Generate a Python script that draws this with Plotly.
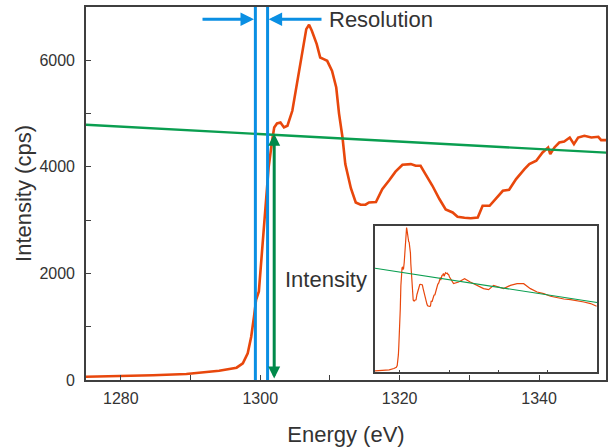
import plotly.graph_objects as go

# ---- data ----
energy = [1275.0, 1279.8, 1284.6, 1289.4, 1294.1, 1296.6, 1297.5, 1298.2, 1298.7, 1299.1,
          1299.4, 1299.8, 1300.2, 1300.6, 1301.2, 1301.7, 1302.0, 1302.4, 1302.9, 1303.4,
          1303.9, 1304.6, 1305.3, 1306.0, 1306.6, 1307.0, 1307.4, 1308.1, 1308.6, 1309.1,
          1309.6, 1310.3, 1310.9, 1311.3, 1311.8, 1312.2, 1313.0, 1313.7, 1314.4, 1315.1,
          1315.6, 1316.6, 1317.5, 1318.5, 1319.4, 1320.4, 1321.1, 1321.6, 1322.3, 1323.0,
          1323.7, 1324.7, 1325.7, 1326.6, 1327.6, 1328.3, 1329.3, 1330.2, 1331.2, 1331.9,
          1332.9, 1333.6, 1334.8, 1335.7, 1336.7, 1337.9, 1338.6, 1339.6, 1340.5, 1341.3,
          1341.6, 1342.2, 1342.9, 1343.6, 1344.4, 1345.0, 1345.6, 1346.5, 1347.5, 1348.5,
          1348.9, 1349.6]
intensity = [62, 69, 88, 113, 175, 231, 313, 500, 813, 1188,
             1502, 1662, 2289, 2912, 3989, 4490, 4739, 4814, 4833, 4740,
             4771, 5052, 5615, 6178, 6585, 6666, 6553, 6303, 6052, 6022,
             5990, 5802, 5489, 5000, 4551, 4052, 3600, 3332, 3290, 3290,
             3332, 3340, 3583, 3750, 3910, 4040, 4052, 4052, 4020, 4020,
             3865, 3645, 3396, 3200, 3144, 3064, 3045, 3035, 3050, 3270,
             3270, 3377, 3551, 3570, 3771, 3958, 4052, 4115, 4270, 4364,
             4240, 4364, 4457, 4476, 4551, 4427, 4551, 4583, 4551, 4564,
             4502, 4502]

# extended range shown only in the inset
ext_energy = [1350.5, 1354.6, 1359.7, 1365.8, 1371.5, 1378.4, 1385.1, 1390.1, 1395.2, 1400.3,
              1405.4, 1412.2, 1419.0, 1425.7, 1432.5, 1439.3, 1446.0, 1452.9, 1459.6, 1466.4,
              1473.2, 1480.0, 1486.7, 1493.5, 1499.6]
ext_intensity = [4385, 4082, 4156, 4312, 4156, 4004, 3853, 3807, 4004, 3926,
                 3853, 4004, 4082, 4082, 3853, 3697, 3624, 3500, 3422, 3376,
                 3348, 3303, 3238, 3165, 3041]

# linear background fit (end points)
fit_energy = [1275.0, 1350.0]
fit_intensity = [4790, 4265]
fit_energy_inset = [1275.0, 1500.0]
fit_intensity_inset = [4790, 3215]

# resolution markers and intensity arrow
res_lines = [1299.3, 1301.05]
res_arrow_y = 6770
res_arrow_left = (1291.5, 1299.1)   # tail, tip
res_arrow_right = (1309.0, 1301.2)
int_arrow_x = 1302.0
int_arrow_top = 4620
int_arrow_bottom = 0

x_ticks = [1280, 1300, 1320, 1340]
y_ticks = [0, 2000, 4000, 6000]
inset_ticks = [1300, 1350, 1400, 1450]

ORANGE = "#e8470c"
GREEN = "#0a9e50"
DGREEN = "#00894a"
BLUE = "#0a8fe3"
FRAME = "#3f3f3f"
TXT = "#333333"
FONT = "Liberation Sans, Arial, sans-serif"

fig = go.Figure()

fig.add_trace(go.Scatter(x=energy, y=intensity, mode="lines",
                         line=dict(color=ORANGE, width=2.6), hoverinfo="skip"))
fig.add_trace(go.Scatter(x=fit_energy, y=fit_intensity, mode="lines",
                         line=dict(color=GREEN, width=2.4), hoverinfo="skip"))
for xv in res_lines:
    fig.add_trace(go.Scatter(x=[xv, xv], y=[0, 7000], mode="lines",
                             line=dict(color=BLUE, width=3), hoverinfo="skip"))

# inset
fig.add_trace(go.Scatter(x=energy + ext_energy, y=intensity + ext_intensity, mode="lines",
                         line=dict(color=ORANGE, width=1.2), xaxis="x2", yaxis="y2",
                         hoverinfo="skip"))
fig.add_trace(go.Scatter(x=fit_energy_inset, y=fit_intensity_inset, mode="lines",
                         line=dict(color=GREEN, width=1.1), xaxis="x2", yaxis="y2",
                         hoverinfo="skip"))

annotations = []
for tail, tip in (res_arrow_left, res_arrow_right):
    annotations.append(dict(x=tip, y=res_arrow_y, ax=tail, ay=res_arrow_y,
                            xref="x", yref="y", axref="x", ayref="y", text="",
                            showarrow=True, arrowhead=2, arrowsize=0.9,
                            arrowwidth=3, arrowcolor=BLUE))
annotations.append(dict(x=int_arrow_x, y=int_arrow_top, ax=int_arrow_x, ay=int_arrow_bottom,
                        xref="x", yref="y", axref="x", ayref="y", text="",
                        showarrow=True, arrowhead=2, startarrowhead=2,
                        arrowside="end+start", arrowsize=0.8, startarrowsize=0.8,
                        arrowwidth=3, arrowcolor=DGREEN))
annotations.append(dict(x=1309.6, y=6760, xref="x", yref="y", text="Resolution",
                        showarrow=False, xanchor="left", yanchor="middle",
                        font=dict(family=FONT, size=22, color=TXT)))
annotations.append(dict(x=1303.2, y=1880, xref="x", yref="y", text="Intensity",
                        showarrow=False, xanchor="left", yanchor="middle",
                        font=dict(family=FONT, size=22, color=TXT)))

fig.update_layout(
    width=614, height=448,
    margin=dict(l=86, r=8, t=7, b=68, autoexpand=False),
    paper_bgcolor="white", plot_bgcolor="white",
    showlegend=False,
    font=dict(family=FONT, color=TXT),
    annotations=annotations,
    xaxis=dict(range=[1275, 1349.6], tickvals=x_ticks, ticks="inside", ticklen=5,
               tickwidth=1.2, tickcolor=FRAME, showline=True, linecolor=FRAME,
               linewidth=1.6, mirror=True, showgrid=False, zeroline=False,
               automargin=False,
               tickfont=dict(size=16, color=TXT), ticklabelstandoff=3,
               minor=dict(dtick=10, tick0=1270, ticks="inside", ticklen=5,
                          tickwidth=1.2, tickcolor=FRAME, showgrid=False),
               title=dict(text="Energy (eV)", font=dict(size=22, color=TXT), standoff=21)),
    yaxis=dict(range=[0, 7000], tickvals=y_ticks, ticks="inside", ticklen=5,
               tickwidth=1.2, tickcolor=FRAME, showline=True, linecolor=FRAME,
               linewidth=1.6, mirror=True, showgrid=False, zeroline=False,
               automargin=False,
               tickfont=dict(size=16, color=TXT), ticklabelstandoff=6,
               minor=dict(dtick=1000, tick0=0, ticks="inside", ticklen=5,
                          tickwidth=1.2, tickcolor=FRAME, showgrid=False),
               title=dict(text="Intensity (cps)", font=dict(size=22, color=TXT), standoff=2)),
    xaxis2=dict(domain=[0.5558, 0.9827], anchor="y2", range=[1275, 1500],
                tickvals=inset_ticks, ticks="inside", ticklen=3, tickwidth=1,
                tickcolor=FRAME, showticklabels=False, showline=True, linecolor=FRAME,
                linewidth=1.6, mirror=True, showgrid=False, zeroline=False),
    yaxis2=dict(domain=[0.0206, 0.4137], anchor="x2", range=[0, 6750],
                ticks="", showticklabels=False, showline=True, linecolor=FRAME,
                linewidth=1.6, mirror=True, showgrid=False, zeroline=False),
)

fig.write_html("out.html", config={"displayModeBar": False},
               post_script="document.body.style.margin='0px';")
